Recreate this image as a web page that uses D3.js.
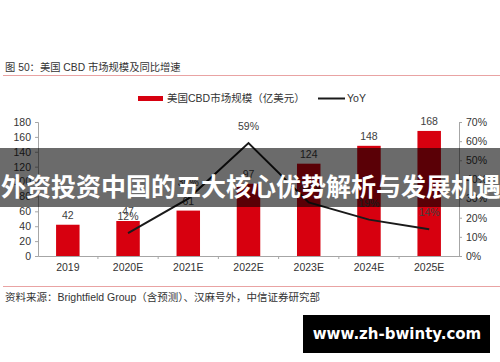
<!DOCTYPE html>
<html>
<head>
<meta charset="utf-8">
<script src="https://cdn.jsdelivr.net/npm/d3@7"></script>
<style>
  body { margin: 0; background: #fff; }
  svg { display: block; font-family: "Liberation Sans", "Noto Sans CJK SC", sans-serif; }
</style>
</head>
<body>
<div id="app"></div>
<script>
// data
const years = ["2019", "2020E", "2021E", "2022E", "2023E", "2024E", "2025E"];
const marketSize = [42, 47, 61, 97, 124, 148, 168];
const yoy = [null, 12, 30, 59, 28, 19, 14];
const leftTicks = [0, 20, 40, 60, 80, 100, 120, 140, 160, 180];
const rightTicks = [0, 10, 20, 30, 40, 50, 60, 70];

const width = 500, height = 362;
const svg = d3.select("#app").append("svg")
  .attr("width", width)
  .attr("height", height);

const plot = { left: 38, right: 459, top: 122, bottom: 256 };

const x = d3.scaleBand()
  .domain(years)
  .range([plot.left, plot.right])
  .paddingInner(0.61)
  .paddingOuter(0.3);

const yL = d3.scaleLinear().domain([0, 180]).range([plot.bottom, plot.top]);
const yR = d3.scaleLinear().domain([0, 70]).range([plot.bottom, plot.top]);

// header
svg.append("text")
  .attr("x", 5).attr("y", 71)
  .attr("font-size", 10.3).attr("fill", "#333")
  .text("图 50：美国 CBD 市场规模及同比增速");
svg.append("line")
  .attr("x1", 3).attr("x2", 500).attr("y1", 75.5).attr("y2", 75.5)
  .attr("stroke", "#e9a3a3").attr("stroke-width", 1.2);

// legend
const legend = svg.append("g").attr("font-size", 10.5).attr("fill", "#333");
legend.append("rect").attr("x", 138).attr("y", 96).attr("width", 25).attr("height", 5).attr("fill", "#d7000f");
legend.append("text").attr("x", 167).attr("y", 102).text("美国CBD市场规模（亿美元）");
legend.append("line").attr("x1", 318).attr("x2", 345).attr("y1", 98.5).attr("y2", 98.5)
  .attr("stroke", "#1a1a1a").attr("stroke-width", 2);
legend.append("text").attr("x", 347).attr("y", 102).text("YoY");

// axes
const axisL = svg.append("g")
  .attr("transform", `translate(${plot.left},0)`)
  .call(d3.axisLeft(yL).tickValues(leftTicks).tickSize(3).tickPadding(4));
const axisR = svg.append("g")
  .attr("transform", `translate(${plot.right},0)`)
  .call(d3.axisRight(yR).tickValues(rightTicks).tickSize(3).tickPadding(4).tickFormat(d => d + "%"));
const axisB = svg.append("g")
  .attr("transform", `translate(0,${plot.bottom})`)
  .call(d3.axisBottom(x).tickSize(0).tickPadding(8));

[axisL, axisR, axisB].forEach(g => {
  g.selectAll("path, line").attr("stroke", "#a6a6a6");
  g.selectAll("text").attr("fill", "#333").attr("font-size", 10.5)
    .attr("font-family", "Liberation Sans, sans-serif");
});

// category boundary ticks on x axis
svg.append("g").selectAll("line")
  .data(years.slice(1))
  .join("line")
  .attr("x1", d => x(d) - x.step() * x.paddingInner() / 2)
  .attr("x2", d => x(d) - x.step() * x.paddingInner() / 2)
  .attr("y1", plot.bottom).attr("y2", plot.bottom + 3)
  .attr("stroke", "#a6a6a6");

// bars
svg.append("g").selectAll("rect")
  .data(marketSize)
  .join("rect")
  .attr("x", (d, i) => x(years[i]))
  .attr("y", d => yL(d))
  .attr("width", x.bandwidth())
  .attr("height", d => yL(0) - yL(d))
  .attr("fill", "#d7000f");

svg.append("g").selectAll("text")
  .data(marketSize)
  .join("text")
  .attr("x", (d, i) => x(years[i]) + x.bandwidth() / 2)
  .attr("y", d => yL(d) - 6)
  .attr("text-anchor", "middle")
  .attr("font-size", 10.5).attr("fill", "#404040")
  .text(d => d);

// yoy line
const pts = yoy.map((v, i) => ({ year: years[i], v })).filter(d => d.v != null);
const line = d3.line()
  .x(d => x(d.year) + x.bandwidth() / 2)
  .y(d => yR(d.v));
svg.append("path")
  .datum(pts)
  .attr("d", line)
  .attr("fill", "none")
  .attr("stroke", "#1a1a1a")
  .attr("stroke-width", 2);

svg.append("g").selectAll("text")
  .data(pts)
  .join("text")
  .attr("x", d => x(d.year) + x.bandwidth() / 2)
  .attr("y", d => yR(d.v) - 13)
  .attr("text-anchor", "middle")
  .attr("font-size", 10.5).attr("fill", "#404040")
  .text(d => d.v + "%");

// footer
svg.append("line")
  .attr("x1", 3).attr("x2", 500).attr("y1", 286.5).attr("y2", 286.5)
  .attr("stroke", "#e9a3a3").attr("stroke-width", 1.2);
svg.append("text")
  .attr("x", 5).attr("y", 301)
  .attr("font-size", 10.5).attr("fill", "#333")
  .text("资料来源：Brightfield Group（含预测）、汉麻号外，中信证券研究部");

// overlay banner
svg.append("rect")
  .attr("x", 0).attr("y", 148).attr("width", width).attr("height", 59)
  .attr("fill", "#000").attr("fill-opacity", 0.58);
svg.append("text")
  .attr("x", 1).attr("y", 196)
  .attr("font-family", "Noto Sans CJK SC, sans-serif")
  .attr("font-size", 25).attr("font-weight", "bold").attr("fill", "#fff")
  .text("外资投资中国的五大核心优势解析与发展机遇");

// watermark
svg.append("rect")
  .attr("x", 303).attr("y", 315).attr("width", 187).attr("height", 38)
  .attr("fill", "#000");
svg.append("text")
  .attr("x", 397).attr("y", 339)
  .attr("text-anchor", "middle")
  .attr("font-family", "DejaVu Sans, sans-serif")
  .attr("font-size", 15).attr("font-weight", "bold").attr("fill", "#fff")
  .text("www.zh-bwinty.com");
</script>
</body>
</html>
